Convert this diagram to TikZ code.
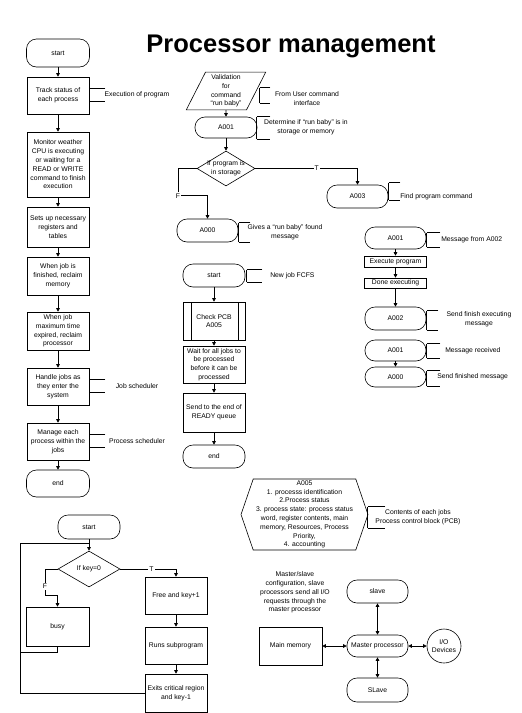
\documentclass[tikz,border=0pt]{standalone}
\usepackage{fontspec}
\setmainfont{Liberation Sans}
\usetikzlibrary{arrows.meta,positioning,shapes.geometric,shapes.symbols}

\begin{document}
\begin{tikzpicture}[x=1pt,y=-1pt,on grid,line width=0.6pt,>={Triangle[length=3.5pt,width=3.5pt]},
   every node/.style={font=\fontsize{6.8}{8.8}\selectfont},
   term/.style={rectangle, rounded corners=10pt, draw, minimum width=62pt, minimum height=23pt, inner sep=1pt},
   proc/.style={rectangle, draw, minimum width=62pt, align=center, inner xsep=1pt, inner ysep=1pt},
   dec/.style={diamond, draw, minimum width=62pt, minimum height=36pt, inner sep=0pt},
   note/.style={align=center, inner sep=0pt},
   lbl/.style={fill=white, inner sep=1pt},
   brk/.style={inner sep=0pt, append after command={(\tikzlastnode.north east) edge (\tikzlastnode.north west)
      (\tikzlastnode.north west) edge (\tikzlastnode.south west)
      (\tikzlastnode.south west) edge (\tikzlastnode.south east)}}]
   \useasboundingbox (0,0) rectangle (522,713);

   \node[font=\fontsize{25.5}{30}\selectfont\bfseries, anchor=base] (title) at (291,52) {Processor management};

   \node[term, minimum width=63pt, minimum height=28pt] (start_0) at (58,53) {start};
   \node[proc, minimum height=37pt] (track_0)   [below=42.5pt of start_0]  {Track status of\\each process};
   \node[proc, minimum height=65pt] (monitor_0) [below=69pt of track_0]    {Monitor weather\\CPU is executing\\or waiting for a\\READ or WRITE\\command to finish\\execution};
   \node[proc, minimum height=40pt] (regs_0)    [below=62.5pt of monitor_0] {Sets up necessary\\registers and\\tables};
   \node[proc, minimum height=38pt] (mem_0)     [below=49pt of regs_0]     {When job is\\finished, reclaim\\memory};
   \node[proc, minimum height=38pt] (cpu_0)     [below=55pt of mem_0]      {When job\\maximum time\\expired, reclaim\\processor};
   \node[proc, minimum height=37pt] (jobs_0)    [below=55.5pt of cpu_0]    {Handle jobs as\\they enter the\\system};
   \node[proc, minimum height=37pt] (each_0)    [below=55pt of jobs_0]     {Manage each\\process within the\\jobs};
   \node[term, minimum width=63pt, minimum height=27pt] (end_0) [below=42pt of each_0] {end};

   \node[trapezium, trapezium left angle=63, trapezium right angle=117, draw, align=center,
         inner xsep=5pt, inner ysep=2.5pt] (valid_1) at (226,91) {Validation\\for\\command\\“run baby”};
   \node[term, minimum height=21pt] (a001_1) [below=36.5pt of valid_1] {A001};
   \node[dec, minimum width=58pt, minimum height=35pt, label={[note]center:If program is\\in storage}] (stor_1) [below=41pt of a001_1] {};
   \node[term, minimum width=61pt] (a003_1) [below right=28pt and 131.5pt of stor_1] {A003};
   \node[term, minimum width=61pt] (a000_1) [below left=62pt and 18.5pt of stor_1]  {A000};
   \coordinate[above left=23pt and 29.5pt of a000_1.north] (f_1);

   \node[term, minimum width=61pt, minimum height=22pt] (a001_2) at (395.5,238) {A001};
   \node[proc, minimum height=11pt] (exec_2) [below=23.5pt of a001_2] {Execute program};
   \node[proc, minimum height=10pt] (done_2) [below=21.5pt of exec_2] {Done executing};
   \node[term, minimum width=61pt]  (a002_2) [below=35.5pt of done_2] {A002};

   \node[term, minimum width=61pt, minimum height=21pt] (a001_3) at (395.5,350.5) {A001};
   \node[term, minimum width=61pt, minimum height=20pt] (a000_3) [below=26.5pt of a001_3] {A000};

   \node[term] (start_4) at (214,275.5) {start};
   \node[proc, minimum height=38pt,
         path picture={\draw ([xshift=8pt]path picture bounding box.north west) -- ([xshift=8pt]path picture bounding box.south west)
                             ([xshift=-7pt]path picture bounding box.north east) -- ([xshift=-7pt]path picture bounding box.south east);}]
         (pcb_4) [below=45.5pt of start_4] {Check PCB\\A005};
   \node[proc, minimum height=37pt] (wait_4)  [below=43.5pt of pcb_4]  {Wait for all jobs to\\be processed\\before it can be\\processed};
   \node[proc, minimum height=39pt] (ready_4) [below=48pt of wait_4]   {Send to the end of\\READY queue};
   \node[term] (end_4) [below=44pt of ready_4] {end};

   \node[signal, signal to=east and west, signal pointer angle=142, draw, minimum width=127pt, minimum height=71pt,
         align=center, inner sep=0pt] (a005_5) at (304.5,514.5)
         {A005\\1. processs identification\\2.Process status\\3. process state: process status\\word, register contents, main\\memory, Resources, Process\\Priority,\\4. accounting};

   \node[term, minimum height=24pt] (start_6) at (89,527) {start};
   \node[dec, label={[note]center:If key=0}] (key_6) [below=42pt of start_6] {};
   \node[proc, minimum width=63pt, minimum height=39pt] (busy_6) [below left=57.5pt and 31.5pt of key_6] {busy};
   \node[proc, minimum height=37pt] (free_6)  [below right=26.5pt and 87pt of key_6] {Free and key+1};
   \node[proc, minimum height=37pt] (runs_6)  [below=50pt of free_6]  {Runs subprogram};
   \node[proc, minimum height=38pt] (exits_6) [below=47.5pt of runs_6] {Exits critical region\\and key-1};
   \coordinate[above=7pt of key_6.north] (join_6);
   \coordinate[left=69pt of join_6] (back_6);
   \coordinate[above left=11pt and 12.5pt of busy_6.north] (f_6);

   \node[term, minimum width=61pt, minimum height=22pt] (master_7) at (377.5,646) {Master processor};
   \node[term, minimum width=61pt] (slave_7) [above=54.5pt of master_7] {slave};
   \node[term, minimum width=61pt, minimum height=24pt] (slavb_7) [below=44pt of master_7] {SLave};
   \node[proc, minimum width=63pt, minimum height=38pt] (mem_7) [left=87pt of master_7] {Main memory};
   \node[circle, draw, minimum size=34pt, inner sep=0pt, align=center] (io_7) [right=66.5pt of master_7] {I/O\\Devices};
   \node[note] (ms_7) at (295,592.5) {Master/slave\\configuration, slave\\processors send all I/O\\requests through the\\master processor};

   \node[brk, minimum width=15pt, minimum height=12pt] (b_exec) at (97.5,95)    {};
   \node[brk, minimum width=15pt, minimum height=12pt] (b_job)  at (97.5,386)   {};
   \node[brk, minimum width=15pt, minimum height=12pt] (b_psch) at (97.5,441)   {};
   \node[brk, minimum width=10pt, minimum height=15pt] (b_user) at (265,95.5)   {};
   \node[brk, minimum width=13pt, minimum height=22pt] (b_det)  at (263.5,128)  {};
   \node[brk, minimum width=11pt, minimum height=17pt] (b_find) at (394.5,191.5) {};
   \node[brk, minimum width=11pt, minimum height=19pt] (b_give) at (244.5,232.5) {};
   \node[brk, minimum width=15pt, minimum height=12pt] (b_new)  at (254.5,276)  {};
   \node[brk, minimum width=13pt, minimum height=14pt] (b_msg)  at (433.5,240)  {};
   \node[brk, minimum width=11pt, minimum height=19pt] (b_sfin) at (432.5,320.5) {};
   \node[brk, minimum width=13pt, minimum height=14pt] (b_recv) at (433.5,351)  {};
   \node[brk, minimum width=13pt, minimum height=15pt] (b_sent) at (433.5,378.5) {};
   \node[brk, minimum width=17pt, minimum height=21pt] (b_pcb)  at (376.5,517.5) {};

   \node[note] (n_exec) at (137,95)    {Execution of program};
   \node[note] (n_job)  at (137,386.5) {Job scheduler};
   \node[note] (n_psch) at (137,441)   {Process scheduler};
   \node[note] (n_user) at (307,98.5)  {From User command\\interface};
   \node[note] (n_det)  at (306,127.5) {Determine if “run baby” is in\\storage or memory};
   \node[note, anchor=west] (n_find) at (400,196.5) {Find program command};
   \node[note] (n_give) at (285,232.5) {Gives a “run baby” found\\message};
   \node[note, anchor=west] (n_new)  at (270,275.5) {New job FCFS};
   \node[note, anchor=west] (n_msg)  at (441,240)   {Message from A002};
   \node[note] (n_sfin) at (479,319.5) {Send finish executing\\message};
   \node[note, anchor=west] (n_recv) at (445,351)   {Message received};
   \node[note, anchor=west] (n_sent) at (437,377)   {Send finished message};
   \node[note] (n_pcb)  at (418,517.5) {Contents of each jobs\\Process control block (PCB)};

   \path[->]
    (start_0)   edge (track_0)
    (track_0)   edge (monitor_0)
    (monitor_0) edge (regs_0)
    (regs_0)    edge (mem_0)
    (mem_0)     edge (cpu_0)
    (cpu_0)     edge (jobs_0)
    (jobs_0)    edge (each_0)
    (each_0)    edge (end_0)
    (valid_1)   edge (a001_1)
    (a001_1)    edge (stor_1)
    (a001_2)    edge (exec_2)
    (exec_2)    edge (done_2)
    (done_2)    edge (a002_2)
    (a001_3)    edge (a000_3)
    (start_4)   edge (pcb_4)
    (pcb_4)     edge (wait_4)
    (wait_4)    edge (ready_4)
    (ready_4)   edge (end_4)
    (start_6)   edge (key_6)
    (free_6)    edge (runs_6)
    (runs_6)    edge (exits_6);
   \draw[->] (stor_1.east) -| node[lbl, pos=0.3] {T} (a003_1.north);
   \draw[->] (stor_1.west) -| (f_1) node[lbl] {F} -| (a000_1.north);
   \draw[->] (key_6.east) -| node[lbl, pos=0.28] {T} (free_6.north);
   \draw[->] (key_6.west) -| node[lbl, pos=0.83] {F} (f_6) -| (busy_6.north);
   \draw (busy_6.south) -- ++(0,6) -| (back_6) -- (join_6);
   \draw (exits_6.west) -| (back_6);
   \path[<->]
    (mem_7)    edge (master_7)
    (master_7) edge (io_7)
    (master_7) edge (slave_7)
    (master_7) edge (slavb_7);
\end{tikzpicture}
\end{document}
